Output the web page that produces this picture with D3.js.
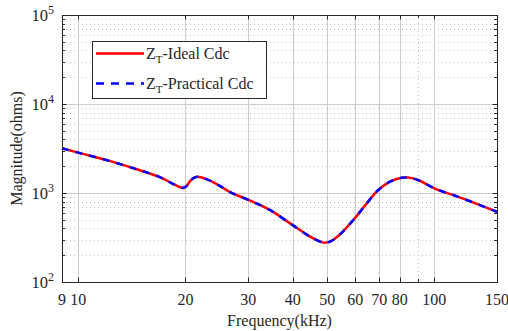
<!DOCTYPE html>
<html>
<head>
<meta charset="utf-8">
<script src="https://cdn.jsdelivr.net/npm/d3@7"></script>
<style>
  body { margin: 0; background: #fff; }
  #chart { width: 508px; height: 331px; }
  text { font-family: "Liberation Serif", "Times New Roman", serif; fill: #262626; }
</style>
</head>
<body>
<div id="chart"></div>
<script>
// frequency (kHz) and magnitude (ohms)
var freq = [9, 10, 12.3, 14.9, 17, 18.5, 19.65, 20.07, 20.8, 21.6, 22.9, 24.9, 26.7, 30.4, 34.5,
            40, 44.8, 48.8, 50.9, 54.1, 59.8, 64.6, 69.6, 75.1, 81, 84.5, 90, 100, 120, 150];
var zIdeal = [3180, 2840, 2280, 1800, 1500, 1260, 1140, 1180, 1420, 1520, 1430, 1210, 1025, 820, 645,
              436, 323, 277, 284, 337, 520, 765, 1080, 1340, 1485, 1490, 1400, 1130, 870, 615];
var zPractical = [3180, 2840, 2280, 1800, 1500, 1260, 1140, 1180, 1420, 1520, 1430, 1210, 1025, 820, 645,
                  436, 323, 277, 284, 337, 520, 765, 1080, 1340, 1485, 1490, 1400, 1130, 870, 615];

var xTicks = [9, 10, 20, 30, 40, 50, 60, 70, 80, 100, 150];
var xMinor = [90];
var yTicks = [100, 1000, 10000, 100000];
var seriesNames = ["Ideal Cdc", "Practical Cdc"];

var margin = { top: 15, right: 11, bottom: 49, left: 62 },
    width = 508 - margin.left - margin.right,
    height = 331 - margin.top - margin.bottom;

var svg = d3.select("#chart")
    .append("svg")
    .attr("width", 508)
    .attr("height", 331)
    .append("g")
    .attr("transform", "translate(" + margin.left + "," + margin.top + ")");

var x = d3.scaleLog().domain([9, 150]).range([0, width]);
var y = d3.scaleLog().domain([100, 100000]).range([height, 0]);

// minor y values 2..9 per decade
var yMinor = [];
yTicks.slice(0, -1).forEach(function (d) {
    for (var k = 2; k <= 9; k++) yMinor.push(d * k);
});

// grid
var grid = svg.append("g");
grid.selectAll(".ymin").data(yMinor).enter().append("line")
    .attr("x1", 0).attr("x2", width)
    .attr("y1", function (d) { return Math.round(y(d)) + 0.5; })
    .attr("y2", function (d) { return Math.round(y(d)) + 0.5; })
    .attr("stroke", "#c4c4c4").attr("stroke-dasharray", "1,3");
grid.selectAll(".xmin").data(xMinor).enter().append("line")
    .attr("y1", 0).attr("y2", height)
    .attr("x1", function (d) { return Math.round(x(d)) + 0.5; })
    .attr("x2", function (d) { return Math.round(x(d)) + 0.5; })
    .attr("stroke", "#c4c4c4").attr("stroke-dasharray", "1,3");
grid.selectAll(".ymaj").data(yTicks.slice(1, -1)).enter().append("line")
    .attr("x1", 0).attr("x2", width)
    .attr("y1", function (d) { return Math.round(y(d)) + 0.5; })
    .attr("y2", function (d) { return Math.round(y(d)) + 0.5; })
    .attr("stroke", "#cdcdcd");
grid.selectAll(".xmaj").data(xTicks.slice(1, -1)).enter().append("line")
    .attr("y1", 0).attr("y2", height)
    .attr("x1", function (d) { return Math.round(x(d)) + 0.5; })
    .attr("x2", function (d) { return Math.round(x(d)) + 0.5; })
    .attr("stroke", "#cdcdcd");

// curves
var line = d3.line()
    .x(function (d) { return x(d[0]); })
    .y(function (d) { return y(d[1]); })
    .curve(d3.curveCatmullRom.alpha(0.5));

svg.append("path")
    .datum(freq.map(function (f, i) { return [f, zIdeal[i]]; }))
    .attr("d", line)
    .attr("fill", "none")
    .attr("stroke", "#ff0000")
    .attr("stroke-width", 2.5);

svg.append("path")
    .datum(freq.map(function (f, i) { return [f, zPractical[i]]; }))
    .attr("d", line)
    .attr("fill", "none")
    .attr("stroke", "#0000ff")
    .attr("stroke-width", 2.5)
    .attr("stroke-dasharray", "7,7");

// axes: ticks pointing inward on all sides
function tickLines(g, vals, len, horiz) {
    vals.forEach(function (d) {
        if (horiz) {
            var px = Math.round(x(d)) + 0.5;
            g.append("line").attr("x1", px).attr("x2", px).attr("y1", height).attr("y2", height - len);
            g.append("line").attr("x1", px).attr("x2", px).attr("y1", 0).attr("y2", len);
        } else {
            var py = Math.round(y(d)) + 0.5;
            g.append("line").attr("y1", py).attr("y2", py).attr("x1", 0).attr("x2", len);
            g.append("line").attr("y1", py).attr("y2", py).attr("x1", width).attr("x2", width - len);
        }
    });
}
var ticks = svg.append("g").attr("stroke", "#262626").attr("stroke-width", 1);
tickLines(ticks, xTicks, 4.5, true);
tickLines(ticks, xMinor, 3, true);
tickLines(ticks, yTicks, 4.5, false);
tickLines(ticks, yMinor, 3, false);

svg.append("rect")
    .attr("x", 0.5).attr("y", 0.5)
    .attr("width", width).attr("height", height)
    .attr("fill", "none").attr("stroke", "#262626");

// tick labels
svg.append("g").selectAll("text").data(xTicks).enter().append("text")
    .attr("x", function (d) { return x(d); })
    .attr("y", height + 23)
    .attr("text-anchor", "middle")
    .style("font-size", "16px")
    .text(function (d) { return d; });

var yl = svg.append("g").selectAll("text").data(yTicks).enter().append("text")
    .attr("x", -8)
    .attr("y", function (d) { return y(d) + 5.5; })
    .attr("text-anchor", "end")
    .style("font-size", "16.5px");
yl.append("tspan").text("10");
yl.append("tspan").attr("dy", -7).style("font-size", "12px")
    .text(function (d) { return Math.round(Math.log10(d)); });

// axis titles
svg.append("text")
    .attr("transform", "translate(" + (width / 2) + "," + (height + 44) + ")")
    .style("text-anchor", "middle")
    .style("font-size", "16px")
    .text("Frequency(kHz)");

svg.append("text")
    .attr("transform", "rotate(-90)")
    .attr("y", -40)
    .attr("x", -height / 2)
    .style("text-anchor", "middle")
    .style("font-size", "16px")
    .text("Magnitude(ohms)");

// legend
var lg = svg.append("g").attr("transform", "translate(30,26)");
lg.append("rect")
    .attr("x", 0.5).attr("y", 0.5).attr("width", 174).attr("height", 57)
    .attr("fill", "#fff").attr("stroke", "#262626");
var legendStyles = [
    { color: "#ff0000", dash: null },
    { color: "#0000ff", dash: "8,7" }
];
seriesNames.forEach(function (name, i) {
    var ly = 12.5 + i * 30;
    lg.append("line")
        .attr("x1", 4).attr("x2", 52).attr("y1", ly).attr("y2", ly)
        .attr("stroke", legendStyles[i].color).attr("stroke-width", 2.5)
        .attr("stroke-dasharray", legendStyles[i].dash);
    var t = lg.append("text").attr("x", 54).attr("y", ly + 5.5).style("font-size", "16px");
    t.append("tspan").text("Z");
    t.append("tspan").attr("dy", 4).style("font-size", "11px").text("T");
    t.append("tspan").attr("dy", -4).text("-" + name);
});
</script>
</body>
</html>
